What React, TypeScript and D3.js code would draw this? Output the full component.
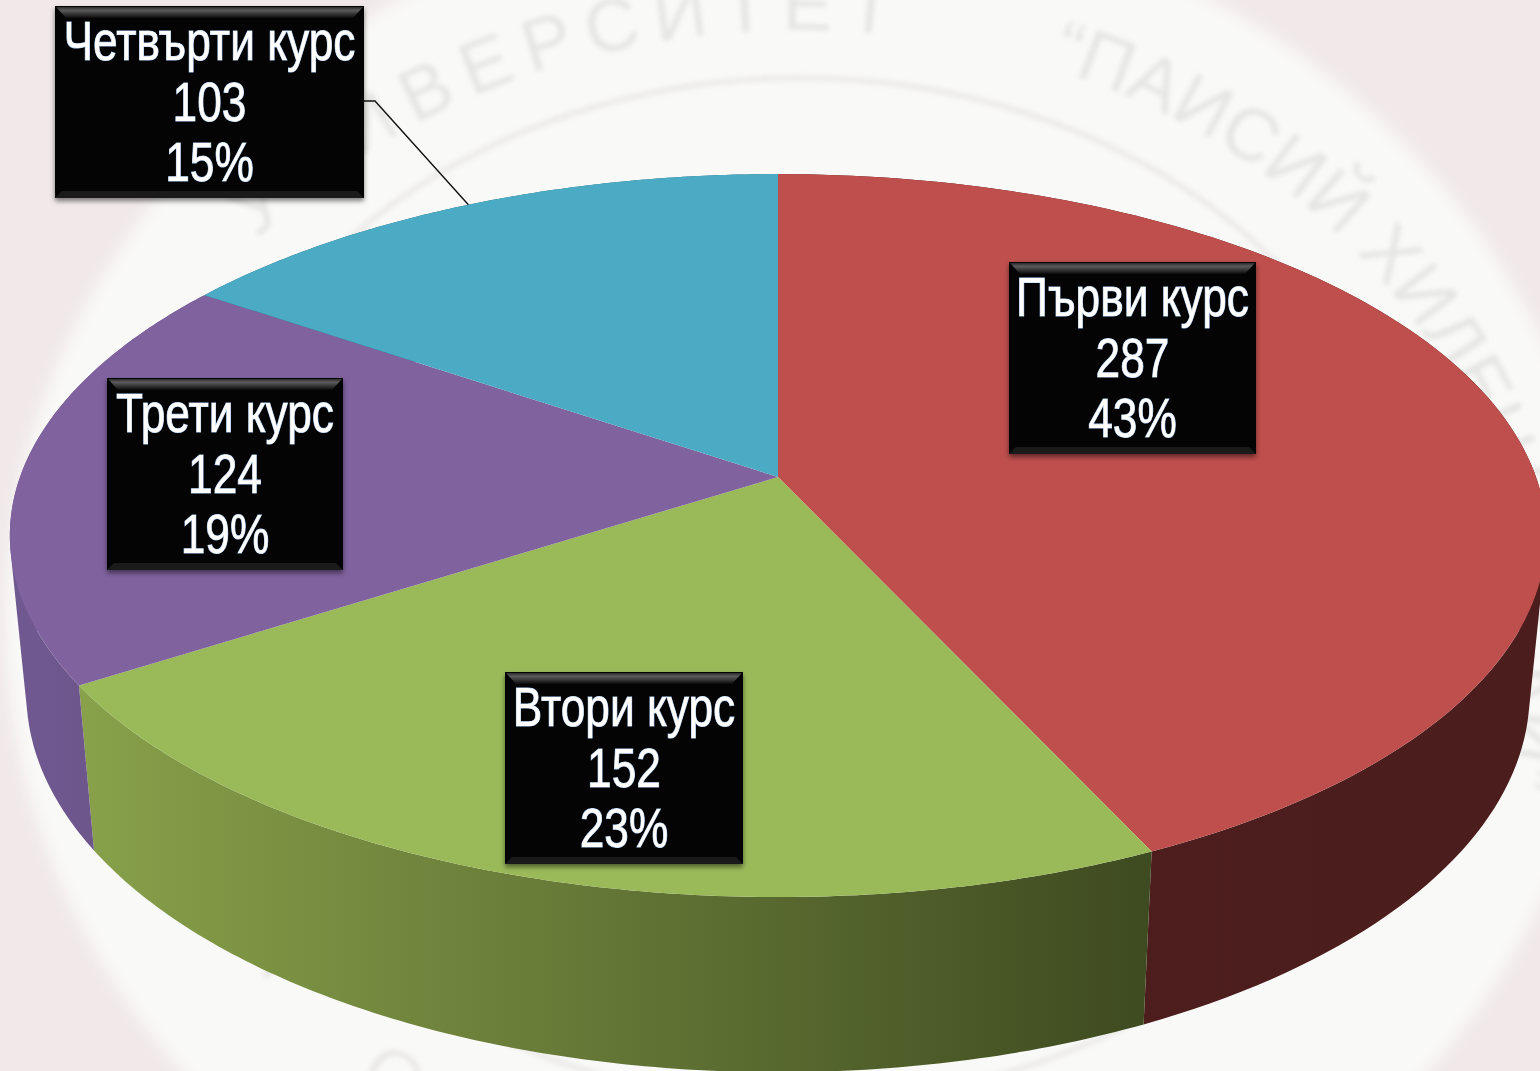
import React from "react";
import * as d3 from "d3";

// ---- data ----
const categories = ["Първи курс", "Втори курс", "Трети курс", "Четвърти курс"];
const counts = [287, 152, 124, 103];
const percents = ["43%", "23%", "19%", "15%"];
const topColors = ["#be4f4d", "#9aba59", "#7f629e", "#4baac4"];
const sideStart = ["#4e1e1e", "#88a14a", "#6f5990", "#2f6a7a"];
const sideEnd = ["#4c1d1d", "#3e4a20", "#6b5287", "#2f6a7a"];

// ---- layout ----
const W = 1540, H = 1071;
const boxes = [
  { x: 1009, y: 262, w: 247 },
  { x: 505, y: 672, w: 238 },
  { x: 107, y: 378, w: 236 },
  { x: 55, y: 6, w: 309 },
];
const BOX_H = 192;
const CX = 778, CY = 477, RX = 758, RY = 352, PERSP = -0.162;

// Perspective projection of the unit disc to the screen
const project = (angle: number, r = 1): [number, number] => {
  const u = r * Math.sin(angle), v = -r * Math.cos(angle);
  const d = 1 + PERSP * v;
  return [CX + (RX * u) / d, CY + (RY * v) / d];
};
// The lower rim, derived from the upper one
const drop = ([x, y]: [number, number]): [number, number] => [
  CX + (x - CX) * 0.9785,
  y + 165 + (y - 685) * 0.048,
];

const pie = d3.pie<number>().sort(null);
const arcs = pie(counts);
const line = d3.line<[number, number]>();
const samples = (a0: number, a1: number) =>
  d3.range(0, 121).map((i) => project(a0 + ((a1 - a0) * i) / 120));

// Wall as same-orientation quads, so nonzero fill never cancels at the silhouette
const wallPath = (top: [number, number][]) =>
  d3
    .range(top.length - 1)
    .map((i) => {
      const quad: [number, number][] = [top[i], top[i + 1], drop(top[i + 1]), drop(top[i])];
      const ordered = d3.polygonArea(quad) < 0 ? [...quad].reverse() : quad;
      return (line(ordered) as string) + "Z";
    })
    .join("");

const FONT = "'Liberation Sans',Arial,sans-serif";

function LabelBox({ i }: { i: number }) {
  const b = boxes[i];
  const cx = b.x + b.w / 2;
  const lines = [categories[i], String(counts[i]), percents[i]];
  return (
    <g>
      <rect x={b.x} y={b.y} width={b.w} height={BOX_H} fill="#000" filter="url(#boxShadow)" />
      <rect x={b.x} y={b.y} width={b.w} height={BOX_H} fill="#040404" />
      <path
        d={`M${b.x + 1},${b.y + 1}H${b.x + b.w - 1}L${b.x + b.w - 11},${b.y + 12}H${b.x + 11}Z`}
        fill="url(#bevelTop)"
      />
      <path
        d={`M${b.x},${b.y + BOX_H}H${b.x + b.w}L${b.x + b.w - 7},${b.y + BOX_H - 7}H${b.x + 7}Z`}
        fill="#1a1a1a"
      />
      {lines.map((t, k) => (
        <text
          key={k}
          transform={`translate(${cx},${b.y + 54 + k * 60.5}) scale(0.805,1)`}
          textAnchor="middle"
          fontFamily={FONT}
          fontSize={55}
          fill="#ffffff"
          stroke="#a9c8f0"
          strokeWidth={1.1}
          paintOrder="stroke"
        >
          {t}
        </text>
      ))}
    </g>
  );
}

export default function App() {
  const blue = arcs[3];
  const tip = project((blue.startAngle + blue.endAngle) / 2);
  const bb = boxes[3];
  const leader: [number, number][] = [
    [bb.x + bb.w, 101],
    [bb.x + bb.w + 11, 101],
    tip,
  ];
  return (
    <svg
      width={W}
      height={H}
      viewBox={`0 0 ${W} ${H}`}
      style={{ position: "fixed", left: 0, top: 0, display: "block" }}
    >
      <defs>
        <filter id="soft" x="-10%" y="-10%" width="120%" height="120%">
          <feGaussianBlur stdDeviation="2.6" />
        </filter>
        <filter id="edge" x="-10%" y="-10%" width="120%" height="120%">
          <feGaussianBlur stdDeviation="8" />
        </filter>
        <filter id="boxShadow" x="-10%" y="-10%" width="120%" height="125%">
          <feDropShadow dx="0" dy="3" stdDeviation="2.5" floodColor="#000" floodOpacity="0.5" />
        </filter>
        <linearGradient id="bevelTop" x1="0" x2="0" y1="0" y2="1">
          <stop offset="0" stopColor="#2a2a2a" />
          <stop offset="0.3" stopColor="#5c5c5c" />
          <stop offset="1" stopColor="#0a0a0a" />
        </linearGradient>
        <path id="ringPath" d="M80,640 A720,610 0 0 1 1520,640 A720,610 0 0 1 80,640" fill="none" />
        <path id="ringLow" d="M140,600 A660,640 0 0 0 1460,600" fill="none" />
        {arcs.map((a, i) => {
          const pts = samples(a.startAngle, a.endAngle);
          const xs = d3.extent(pts, (p) => p[0]) as [number, number];
          return (
            <linearGradient
              key={i}
              id={`side${i}`}
              gradientUnits="userSpaceOnUse"
              x1={xs[0]}
              x2={xs[1]}
              y1={0}
              y2={0}
            >
              <stop offset="0" stopColor={sideStart[i]} />
              <stop offset="1" stopColor={sideEnd[i]} />
            </linearGradient>
          );
        })}
      </defs>

      {/* faded seal background */}
      <rect width={W} height={H} fill="#f0e8e9" />
      <ellipse cx={805} cy={620} rx={800} ry={720} fill="#f9f9f7" filter="url(#edge)" />
      <g filter="url(#soft)">
        <ellipse cx={800} cy={590} rx={620} ry={512} fill="none" stroke="#ecebea" strokeWidth={6} />
        <g fontFamily="'Liberation Sans',sans-serif" fontSize={74} fill="#e5e5e3">
          <text letterSpacing={14}>
            <textPath href="#ringPath" startOffset="450">
              УНИВЕРСИТЕТ
            </textPath>
          </text>
          <text>
            <textPath href="#ringPath" startOffset="1300">
              “ПАИСИЙ ХИЛЕНДАРСКИ”
            </textPath>
          </text>
        </g>
        <text fontFamily="'Liberation Sans',sans-serif" fontSize={74} fill="#e9e8e6" letterSpacing={130}>
          <textPath href="#ringLow" startOffset="180">
            ПЛОВДИВ
          </textPath>
        </text>
      </g>

      {/* side walls */}
      {arcs.map((a, i) => (
        <path key={i} d={wallPath(samples(a.startAngle, a.endAngle))} fill={`url(#side${i})`} />
      ))}

      {/* top faces */}
      {arcs.map((a, i) => {
        const pts: [number, number][] = [[CX, CY], ...samples(a.startAngle, a.endAngle)];
        return <path key={i} d={(line(pts) as string) + "Z"} fill={topColors[i]} />;
      })}

      {/* leader */}
      <path d={line(leader) as string} fill="none" stroke="#111" strokeWidth={1.4} />

      {categories.map((_, i) => (
        <LabelBox key={i} i={i} />
      ))}
    </svg>
  );
}
